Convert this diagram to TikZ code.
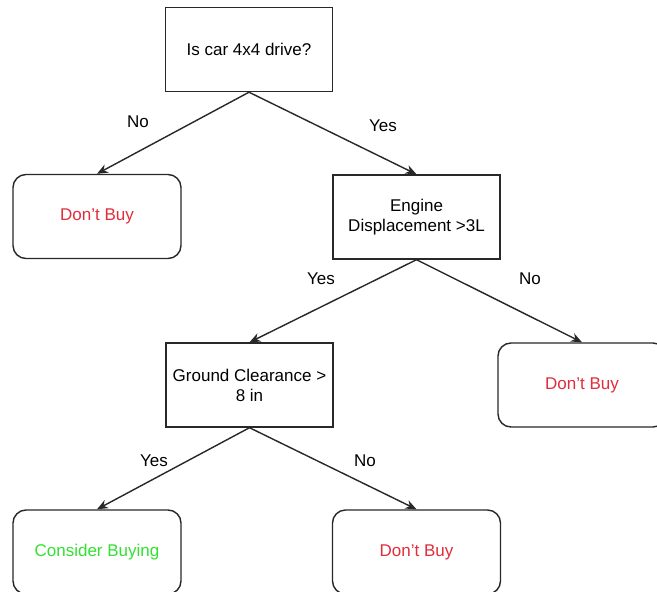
\documentclass[tikz,border=0pt]{standalone}
\usepackage{fontspec}
\setmainfont{Liberation Sans}
\usetikzlibrary{arrows.meta}
\definecolor{edgegray}{RGB}{40,40,40}
\definecolor{nored}{RGB}{225,45,60}
\definecolor{yesgreen}{RGB}{50,225,50}
\begin{document}
\begin{tikzpicture}[x=1pt,y=-1pt,
  every node/.style={font=\fontsize{17}{20}\selectfont},
  qbox/.style={draw=edgegray,line width=1.4pt,rectangle,minimum width=167pt,minimum height=84pt,align=center,inner sep=2pt},
  abox/.style={draw=edgegray,line width=1.4pt,rectangle,rounded corners=13pt,minimum width=168pt,minimum height=84pt,align=center},
  conn/.style={draw=edgegray,line width=1.4pt,-{Stealth[length=11pt,width=9pt]}},
  elabel/.style={text=black,inner sep=1pt}]
\useasboundingbox (0,0) rectangle (657,592);
\clip (0,0) rectangle (657,592);
\fill[white] (0,0) rectangle (657,592);
\node[qbox] (root) at (249,49.5) {Is car 4x4 drive?};
\node[abox,text=nored] (d1) at (97,216.5) {Don't Buy};
\node[qbox] (eng) at (416.5,217) {Engine\\Displacement >3L};
\node[qbox] (gnd) at (249.5,385) {Ground Clearance >\\8 in};
\node[abox,text=nored] (d2) at (582,385) {Don't Buy};
\node[abox,text=yesgreen] (cb) at (97,552) {Consider Buying};
\node[abox,text=nored] (d3) at (416.5,552) {Don't Buy};
\draw[conn] (root.south) -- (d1.north);
\draw[conn] (root.south) -- (eng.north);
\draw[conn] (eng.south) -- (gnd.north);
\draw[conn] (eng.south) -- (d2.north);
\draw[conn] (gnd.south) -- (cb.north);
\draw[conn] (gnd.south) -- (d3.north);
\node[elabel] (l1) at (138,122) {No};
\node[elabel] (l2) at (383,126) {Yes};
\node[elabel] (l3) at (321,279) {Yes};
\node[elabel] (l4) at (530,279) {No};
\node[elabel] (l5) at (154,461) {Yes};
\node[elabel] (l6) at (365,461) {No};
\end{tikzpicture}
\end{document}
